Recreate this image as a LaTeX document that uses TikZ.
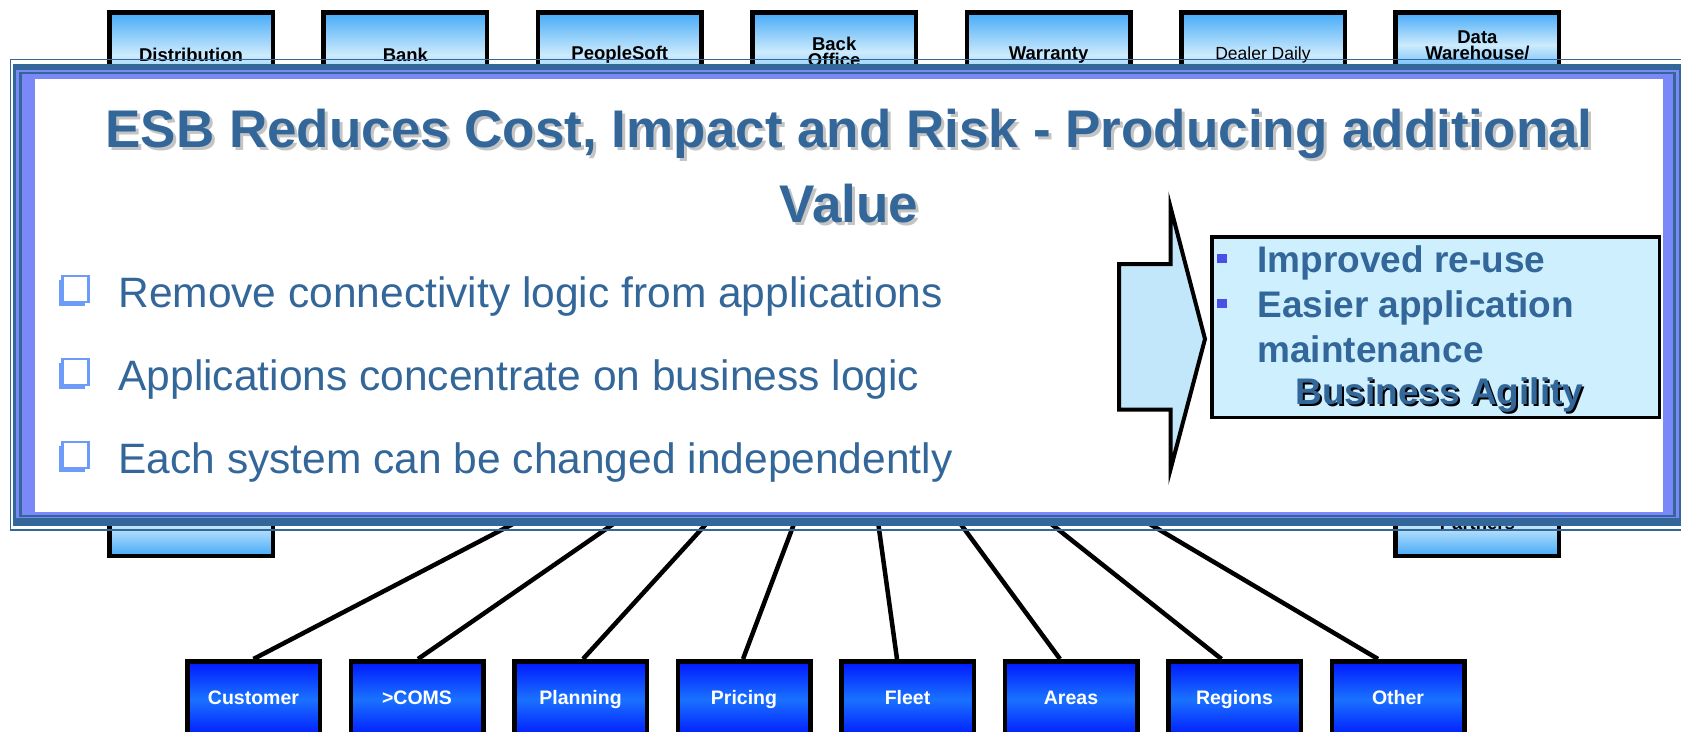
\documentclass[tikz,border=0pt]{standalone}
\usepackage{fontspec}
\setmainfont{Liberation Sans}
\usepackage{tikz}
\usetikzlibrary{positioning, shadows}
\tikzset{>=stealth}
\definecolor{esbblue}{HTML}{336699}
\definecolor{peri}{HTML}{7B88F7}
\definecolor{skytop}{HTML}{45AAF8}
\definecolor{skymid}{HTML}{CDEBFC}
\definecolor{deeptop}{HTML}{0018FF}
\definecolor{deepmid}{HTML}{1A72FF}
\definecolor{chkblue}{HTML}{6D9CF8}
\definecolor{dotblue}{HTML}{4A50E6}
\definecolor{gainfill}{HTML}{CDEFFE}
\definecolor{arrowfill}{HTML}{C2E7FA}
\definecolor{shadegray}{HTML}{C4C4C4}

\begin{document}
\begin{tikzpicture}[x=1pt, y=-1pt, thick,
		sysbox/.style={draw, line width=4.5pt, top color=skytop, bottom color=skytop, middle color=skymid, minimum width=163.5pt, minimum height=85.5pt, anchor=north, align=center, font=\fontsize{18.5}{16}\selectfont\bfseries},
		appbox/.style={draw, line width=4.5pt, top color=deeptop, bottom color=deeptop, middle color=deepmid, minimum width=132.5pt, minimum height=76pt, anchor=north, text=white, text height=13.5pt, text depth=4pt, font=\fontsize{19.5}{20}\selectfont\bfseries},
		link/.style={line width=4.5pt},
		headline/.style={anchor=base, inner sep=0pt, text=esbblue, font=\fontsize{53}{60}\selectfont\bfseries},
		point/.style={anchor=base west, inner sep=0pt, text=esbblue, font=\fontsize{42.5}{48}\selectfont},
		chkbox/.style={draw=chkblue, line width=2.5pt, fill=white, minimum size=26pt, inner sep=0pt, general shadow={fill=chkblue, shadow xshift=-3.5pt, shadow yshift=-4pt}},
		gainbox/.style={draw, line width=3.5pt, fill=gainfill, minimum width=447.5pt, minimum height=180.5pt},
		gaindot/.style={fill=dotblue, minimum size=9.5pt, inner sep=0pt},
		gaintext/.style={anchor=base west, inner sep=0pt, text=esbblue, font=\fontsize{37}{45}\selectfont\bfseries}]
		\useasboundingbox (0,0) rectangle (1681,731);
		
		% systems behind the frame
		\node [sysbox] (distrib) at (191,10) {Distribution};
		\node [sysbox] (bank) at (405.4,10) {Bank};
		\node [sysbox] (psoft) at (619.8,10) {PeopleSoft};
		\node [sysbox, minimum height=79.5pt] (backoff) at (834.2,10) {Back\\Office};
		\node [sysbox] (warranty) at (1048.6,10) {Warranty};
		\node [sysbox, font=\fontsize{17.5}{16}\selectfont] (dealer) at (1263,10) {Dealer Daily};
		\node [sysbox, minimum height=65.5pt] (dwh) at (1477.4,10) {Data\\Warehouse/};
		\node [sysbox, minimum height=65.5pt, anchor=south] (leftsys) at (191,558) {};
		\node [sysbox, minimum height=65.5pt, anchor=south] (partners) at (1477.4,558) {Partners};
		
		% applications on the bus
		\node [appbox] (customer) at (253.5,659) {Customer};
		\node [appbox] (coms) at (417,659) {>COMS};
		\node [appbox] (planning) at (580.5,659) {Planning};
		\node [appbox] (pricing) at (744,659) {Pricing};
		\node [appbox] (fleet) at (907.5,659) {Fleet};
		\node [appbox] (areas) at (1071,659) {Areas};
		\node [appbox] (regions) at (1234.5,659) {Regions};
		\node [appbox] (other) at (1398,659) {Other};
		
		\coordinate (esb-customer) at (559,500);
		\coordinate (esb-coms) at (648,500);
		\coordinate (esb-planning) at (728,500);
		\coordinate (esb-pricing) at (803,500);
		\coordinate (esb-fleet) at (875,500);
		\coordinate (esb-areas) at (943,500);
		\coordinate (esb-regions) at (1021,500);
		\coordinate (esb-other) at (1109,500);
		
		\draw[link] (customer.north) -- (esb-customer);
		\draw[link] ([xshift=1pt]coms.north) -- (esb-coms);
		\draw[link] ([xshift=2.5pt]planning.north) -- (esb-planning);
		\draw[link] ([xshift=-1pt]pricing.north) -- (esb-pricing);
		\draw[link] ([xshift=-10.5pt]fleet.north) -- (esb-fleet);
		\draw[link] ([xshift=-11pt]areas.north) -- (esb-areas);
		\draw[link] ([xshift=-13pt]regions.north) -- (esb-regions);
		\draw[link] ([xshift=-20pt]other.north) -- (esb-other);
		
		% slide frame
		\draw[esbblue, line width=1.5pt] (10.5,59.5) rectangle (1700,530);
		\fill[esbblue] (13,64) rectangle (1700,526);
		\fill[peri] (16,70) rectangle (1679,518);
		\fill[esbblue] (18.5,72) rectangle (1676,516.5);
		\fill[peri] (21.5,74) rectangle (1673,514.5);
		\fill[white] (35,79) rectangle (1663,511.5);
		
		\node [headline, text=shadegray] (title-sh) at (852,150) {ESB Reduces Cost, Impact and Risk - Producing additional};
		\node [headline] (title) at (849,147) {ESB Reduces Cost, Impact and Risk - Producing additional};
		\node [headline, text=shadegray] (value-sh) at (852,225) {Value};
		\node [headline] (value) at (849,222) {Value};
		
		\node [chkbox] (chk1) at (75.5,289) {};
		\node [chkbox] (chk2) at (75.5,372) {};
		\node [chkbox] (chk3) at (75.5,455) {};
		\node [point] (pt1) at (118,307) {Remove connectivity logic from applications};
		\node [point] (pt2) at (118,390) {Applications concentrate on business logic};
		\node [point] (pt3) at (118,473) {Each system can be changed independently};
		
		% outcome
		\draw[line width=4pt, fill=arrowfill] (1119,264) -- (1170.5,264) -- (1170.5,207) -- (1205,339) -- (1170.5,469.5) -- (1170.5,409.5) -- (1119,409.5) -- cycle;
		\node [gainbox] (gain) at (1435.5,327) {};
		\node [gaindot] (dot1) at (1222,258.5) {};
		\node [gaindot] (dot2) at (1222,303.5) {};
		\node [gaintext] (gain1) at (1257,272) {Improved re-use};
		\node [gaintext] (gain2) at (1257,317) {Easier application};
		\node [gaintext] (gain3) at (1257,362) {maintenance};
		\node [gaintext, text=black] (agility-sh) at (1297,406) {Business Agility};
		\node [gaintext] (agility) at (1295,404) {Business Agility};
\end{tikzpicture}
\end{document}
